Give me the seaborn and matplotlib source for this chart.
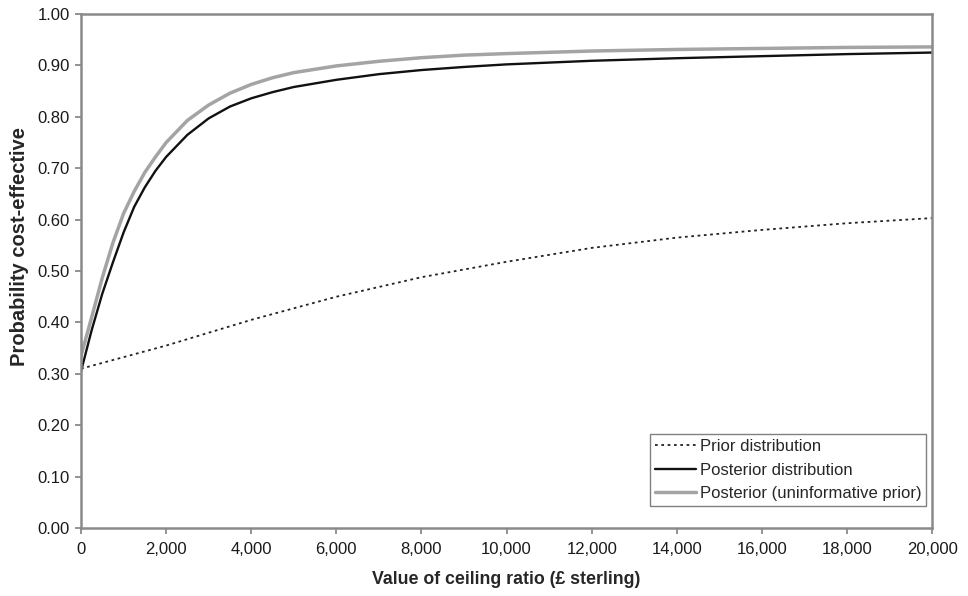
import numpy as np
import pandas as pd
import matplotlib
matplotlib.use("Agg")
import matplotlib.pyplot as plt
import seaborn as sns

# values
wtp_prior = [0, 2000, 4000, 6000, 8000, 10000, 12000, 14000, 16000, 18000, 20000]
p_prior = [0.31, 0.355, 0.405, 0.45, 0.488, 0.518, 0.545, 0.565, 0.58, 0.593, 0.603]

wtp_post = [0, 250, 500, 750, 1000, 1250, 1500, 1750, 2000, 2500, 3000, 3500, 4000,
            4500, 5000, 6000, 7000, 8000, 9000, 10000, 12000, 14000, 16000, 18000, 20000]
p_post = [0.305, 0.385, 0.456, 0.517, 0.575, 0.625, 0.663, 0.695, 0.722, 0.765, 0.797,
          0.82, 0.836, 0.848, 0.858, 0.872, 0.883, 0.891, 0.897, 0.902, 0.909, 0.914,
          0.918, 0.922, 0.925]
p_uninf = [0.335, 0.41, 0.487, 0.555, 0.612, 0.655, 0.692, 0.722, 0.75, 0.793, 0.823,
           0.846, 0.863, 0.876, 0.886, 0.899, 0.908, 0.915, 0.92, 0.923, 0.928, 0.931,
           0.933, 0.935, 0.936]

x_ticks = list(range(0, 20001, 2000))
y_ticks = [i / 10 for i in range(11)]

sns.set_style("white")
plt.rcParams["font.family"] = ["Liberation Sans", "DejaVu Sans"]

fig = plt.figure(figsize=(9.68, 5.96), dpi=100)
ax = fig.add_axes([0.0837, 0.114, 0.8793, 0.8625])

sns.lineplot(x=wtp_prior, y=p_prior, ax=ax, color="#222222", lw=1.3,
             linestyle=(0, (1.5, 2)), label="Prior distribution")
sns.lineplot(x=wtp_post, y=p_post, ax=ax, color="#111111", lw=1.7,
             label="Posterior distribution")
sns.lineplot(x=wtp_post, y=p_uninf, ax=ax, color="#a4a4a4", lw=2.5,
             label="Posterior (uninformative prior)")

ax.set_xlim(0, 20000)
ax.set_ylim(0, 1.0)
ax.set_xticks(x_ticks)
ax.set_xticklabels([f"{v:,}" for v in x_ticks])
ax.set_yticks(y_ticks)
ax.set_yticklabels([f"{v:.2f}" for v in y_ticks])
ax.tick_params(axis="both", direction="out", length=4, width=1.2, color="#808080",
               labelsize=12, pad=4, left=True, bottom=True, labelcolor="#1a1a1a")
ax.tick_params(axis="x", pad=6)

for s in ax.spines.values():
    s.set_color("#8a8a8a")
    s.set_linewidth(1.8)

ax.set_xlabel("Value of ceiling ratio (\u00a3 sterling)", fontsize=12.8, fontweight="bold", labelpad=10)
ax.set_ylabel("Probability cost-effective", fontsize=14.5, fontweight="bold", labelpad=8)
ax.yaxis.set_label_coords(-0.061, 0.547)

leg = ax.legend(loc="lower right", bbox_to_anchor=(0.993, 0.043), fontsize=12,
                frameon=True, fancybox=False, framealpha=1, edgecolor="#808080",
                handlelength=2.5, handletextpad=0.2, borderpad=0.3,
                labelspacing=0.5, borderaxespad=0)
leg.get_frame().set_linewidth(1.0)

fig.savefig("out.png", dpi=100)
